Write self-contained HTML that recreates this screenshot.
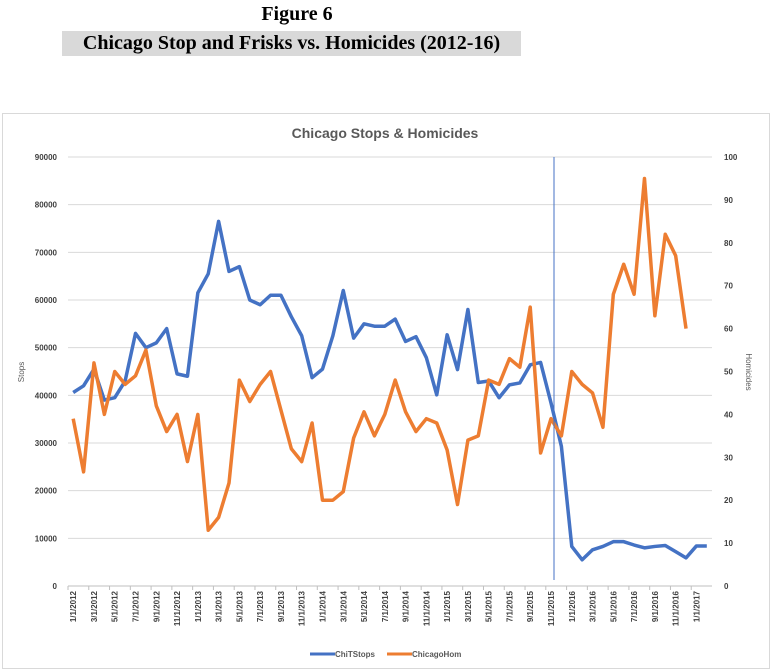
<!DOCTYPE html>
<html><head><meta charset="utf-8"><style>
body{margin:0;background:#fff;width:775px;height:672px;overflow:hidden;position:relative;font-family:"Liberation Serif",serif}
.h1{position:absolute;left:0;width:594px;text-align:center;top:3px;font-weight:bold;font-size:20px}
.h2{position:absolute;left:62px;top:31px;height:25px;width:459px;background:#d9d9d9;font-weight:bold;font-size:20px;line-height:25px;text-align:center;white-space:nowrap}
svg{position:absolute;left:0;top:0}
</style></head><body>
<div class="h1">Figure 6</div>
<div class="h2">Chicago Stop and Frisks vs. Homicides (2012-16)</div>
<svg id="c" width="775" height="672"></svg>
<script>
const stops=[40600,42000,45500,39000,39500,43000,53000,50000,51000,54000,44500,44000,61500,65500,76500,66000,67000,60000,59000,61000,61000,56500,52500,43700,45500,52500,62000,52000,55000,54500,54500,56000,51300,52300,47900,40100,52700,45400,58000,42700,43000,39500,42200,42600,46400,46900,38400,29300,8300,5500,7600,8300,9300,9300,8600,8000,8300,8500,7200,5900,8400,8400];
const homs=[39,26.6,52,40,50,47,49,55,42,36,40,29,40,13,16,24,48,43,47,50,41,32,29,38,20,20,22,34.5,40.6,35,40,48,40.6,36,39,38,31.7,19,34,35,48,47,53,51,65,31,39,35,50,47,45,37,68,75,68,95,63,82,77,60];
const leftTicks=[0,10000,20000,30000,40000,50000,60000,70000,80000,90000];
const rightTicks=[0,10,20,30,40,50,60,70,80,90,100];
const NS="http://www.w3.org/2000/svg",svg=document.getElementById('c');
const X0=68,X1=712,Y0=586,Y1=157,N=62,bw=(X1-X0)/N;
const x=i=>X0+bw*(i+0.5), yl=v=>Y0-(v/90000)*(Y0-Y1), yr=v=>Y0-(v/100)*(Y0-Y1);
function mk(t,a,txt){const e=document.createElementNS(NS,t);for(const k in a)e.setAttribute(k,a[k]);if(txt!=null)e.textContent=txt;svg.appendChild(e);return e;}
let e=mk('rect',{x:2.5,y:113.5,width:767,height:555,fill:'none',stroke:'#d9d9d9'});


e=mk('text',{x:385,y:138,'text-anchor':'middle','font-family':'Liberation Sans,sans-serif','font-size':14,'font-weight':'bold',fill:'#595959'},'Chicago Stops & Homicides');


leftTicks.forEach(v=>{
  const g=mk('line',{x1:X0,x2:X1,y1:yl(v),y2:yl(v),stroke:v?'#d9d9d9':'#bfbfbf','stroke-width':1});
  
  
  const t=mk('text',{x:57,y:yl(v)+3,'text-anchor':'end','font-family':'Liberation Sans,sans-serif','font-size':8,'font-weight':'bold',fill:'#404040'},v);
  
  
});
rightTicks.forEach(v=>{
  const t=mk('text',{x:724,y:yr(v)+3,'font-family':'Liberation Sans,sans-serif','font-size':8,'font-weight':'bold',fill:'#404040'},v);
  
  
});
e=mk('text',{transform:'translate(24,372) rotate(-90)','text-anchor':'middle','font-family':'Liberation Sans,sans-serif','font-size':8,fill:'#595959'},'Stops');


e=mk('text',{transform:'translate(746,372) rotate(90)','text-anchor':'middle','font-family':'Liberation Sans,sans-serif','font-size':8,fill:'#595959'},'Homicides');


for(let i=0;i<N;i+=2){
  const m=(i%12)+1,yr_=2012+Math.floor(i/12);
  const tk=mk('line',{x1:X0+bw*i,x2:X0+bw*i,y1:Y0,y2:Y0+4,stroke:'#bfbfbf'});
  
  
  const t=mk('text',{transform:`translate(${x(i)+3},${Y0+5}) rotate(-90)`,'text-anchor':'end','font-family':'Liberation Sans,sans-serif','font-size':8,'font-weight':'bold',fill:'#404040'},`${m}/1/${yr_}`);
  
  
}
const pb=mk('polyline',{points:stops.map((v,i)=>x(i)+','+yl(v)).join(' '),fill:'none',stroke:'#4472c4','stroke-width':3.5,'stroke-linejoin':'round'});


const po=mk('polyline',{points:homs.map((v,i)=>x(i)+','+yr(v)).join(' '),fill:'none',stroke:'#ed7d31','stroke-width':3.5,'stroke-linejoin':'round'});


e=mk('line',{x1:554,x2:554,y1:157,y2:580,stroke:'#4472c4','stroke-width':1});


e=mk('line',{x1:310,x2:335,y1:654,y2:654,stroke:'#4472c4','stroke-width':3});


e=mk('text',{x:335,y:657,'font-family':'Liberation Sans,sans-serif','font-size':8,'font-weight':'bold',fill:'#595959'},'ChiTStops');


e=mk('line',{x1:387,x2:412,y1:654,y2:654,stroke:'#ed7d31','stroke-width':3});


e=mk('text',{x:412,y:657,'font-family':'Liberation Sans,sans-serif','font-size':8,'font-weight':'bold',fill:'#595959'},'ChicagoHom');


</script>
</body></html>
